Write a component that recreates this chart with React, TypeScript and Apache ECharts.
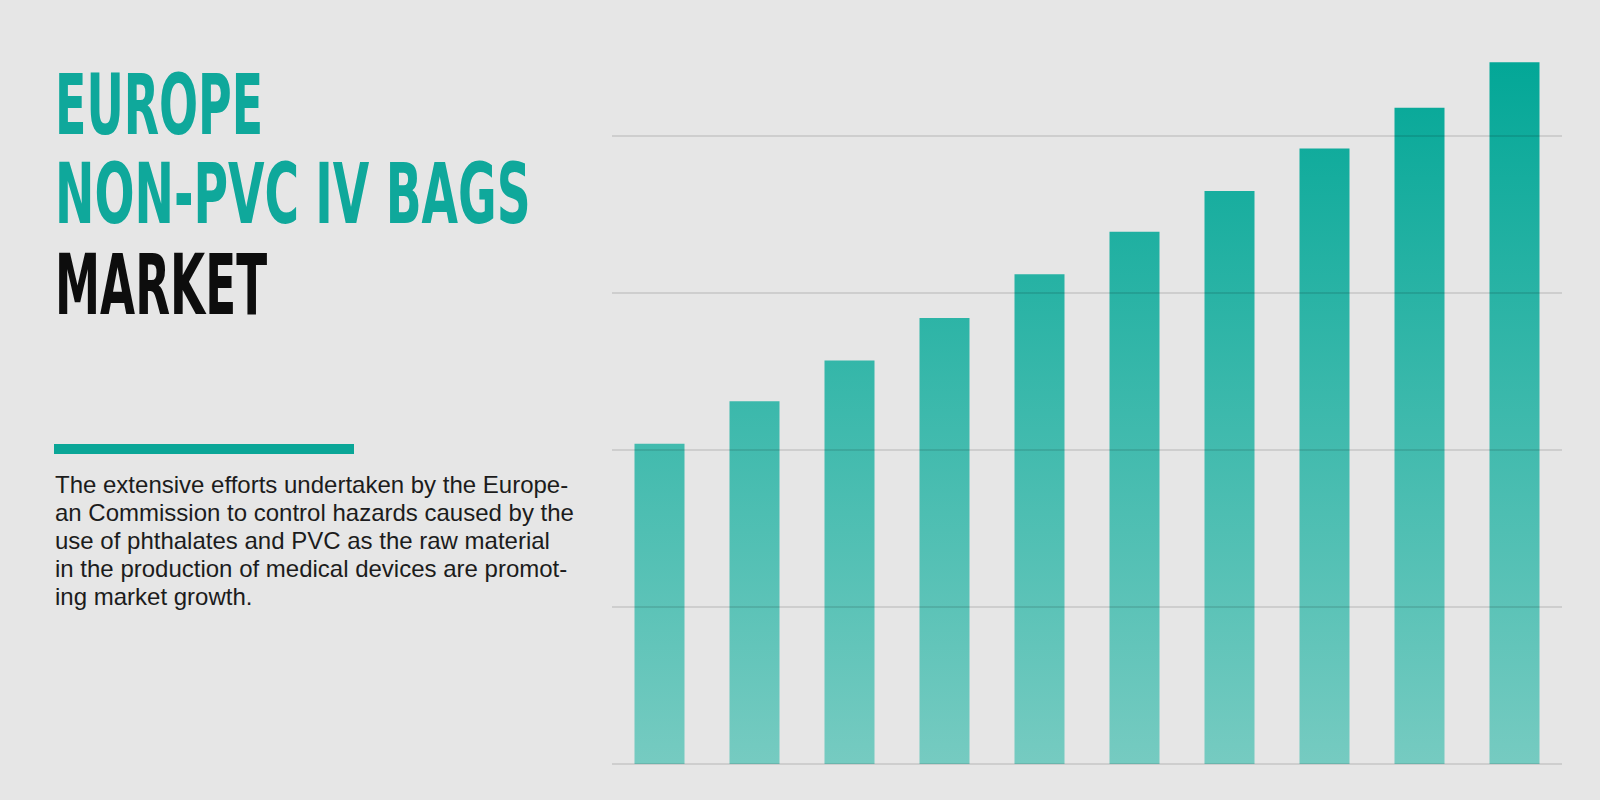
import { useEffect, useRef } from 'react'
import * as echarts from 'echarts'

// market size index (one gridline = 1 unit)
const years = ['2019', '2020', '2021', '2022', '2023', '2024', '2025', '2026', '2027', '2028']
const marketValues = [2.04, 2.31, 2.57, 2.84, 3.12, 3.39, 3.65, 3.92, 4.18, 4.47]

const titleLines = ['EUROPE', 'NON-PVC IV BAGS', 'MARKET']
const bodyLines = [
  'The extensive efforts undertaken by the Europe-',
  'an Commission to control hazards caused by the',
  'use of phthalates and PVC as the raw material',
  'in the production of medical devices are promot-',
  'ing market growth.',
]

const TEAL = '#0fa89b'
const TITLE_FONT = '"DejaVu Sans Condensed", "DejaVu Sans", sans-serif'

// squeeze the heavy title font to the narrow width of the original lettering
function fitScale(text: string, size: number, target: number) {
  const ctx = document.createElement('canvas').getContext('2d')
  if (!ctx) return 0.6
  ctx.font = `bold ${size}px ${TITLE_FONT}`
  const w = ctx.measureText(text).width
  return w > 0 ? target / w : 0.6
}

export default function App() {
  const chartRef = useRef<HTMLDivElement>(null)

  useEffect(() => {
    if (!chartRef.current) return
    const chart = echarts.init(chartRef.current, null, { renderer: 'svg' })

    const titleSize = 83
    const titleY = [105, 194, 285]
    const titleWidth = [208, 476, 212]
    const titleColor = [TEAL, TEAL, '#0d0d0d']

    const titleTexts = titleLines.map((t, i) => ({
      type: 'text',
      x: 55,
      y: titleY[i],
      scaleX: fitScale(t, titleSize, titleWidth[i]),
      style: {
        text: t,
        fill: titleColor[i],
        fontSize: titleSize,
        fontWeight: 'bold',
        fontFamily: TITLE_FONT,
        align: 'left',
        verticalAlign: 'middle',
      },
    }))

    const option = {
      animation: false,
      backgroundColor: '#e6e6e6',
      grid: {
        left: 612,
        right: 38,
        top: 57.5,
        bottom: 36,
        containLabel: false,
      },
      xAxis: {
        type: 'category',
        data: years,
        axisLine: { show: false },
        axisTick: { show: false },
        axisLabel: { show: false },
        splitLine: { show: false },
      },
      yAxis: {
        type: 'value',
        min: 0,
        max: 4.5,
        interval: 1,
        z: 3,
        axisLine: { show: false },
        axisTick: { show: false },
        axisLabel: { show: false },
        splitLine: {
          show: true,
          showMaxLine: false,
          lineStyle: { color: 'rgba(0,0,0,0.1)', width: 2 },
        },
      },
      series: [
        {
          type: 'bar',
          data: marketValues,
          barWidth: 50,
          itemStyle: {
            color: new echarts.graphic.LinearGradient(
              0,
              62,
              0,
              764,
              [
                { offset: 0, color: '#03a797' },
                { offset: 1, color: '#76cbc1' },
              ],
              true
            ),
          },
        },
      ],
      graphic: [
        ...titleTexts,
        {
          type: 'rect',
          shape: { x: 54, y: 444, width: 300, height: 10 },
          style: { fill: '#0aa697' },
        },
        {
          type: 'text',
          x: 55,
          y: 470,
          style: {
            text: bodyLines.join('\n'),
            fill: '#1c1c1c',
            fontSize: 24,
            fontFamily: '"Liberation Sans", Arial, sans-serif',
            lineHeight: 28,
            align: 'left',
            verticalAlign: 'top',
          },
        },
      ],
    }

    chart.setOption(option as any)

    const handleResize = () => chart.resize()
    window.addEventListener('resize', handleResize)

    return () => {
      window.removeEventListener('resize', handleResize)
      chart.dispose()
    }
  }, [])

  return (
    <div
      ref={chartRef}
      style={{ position: 'absolute', left: 0, top: 0, width: '1600px', height: '800px' }}
    />
  )
}
